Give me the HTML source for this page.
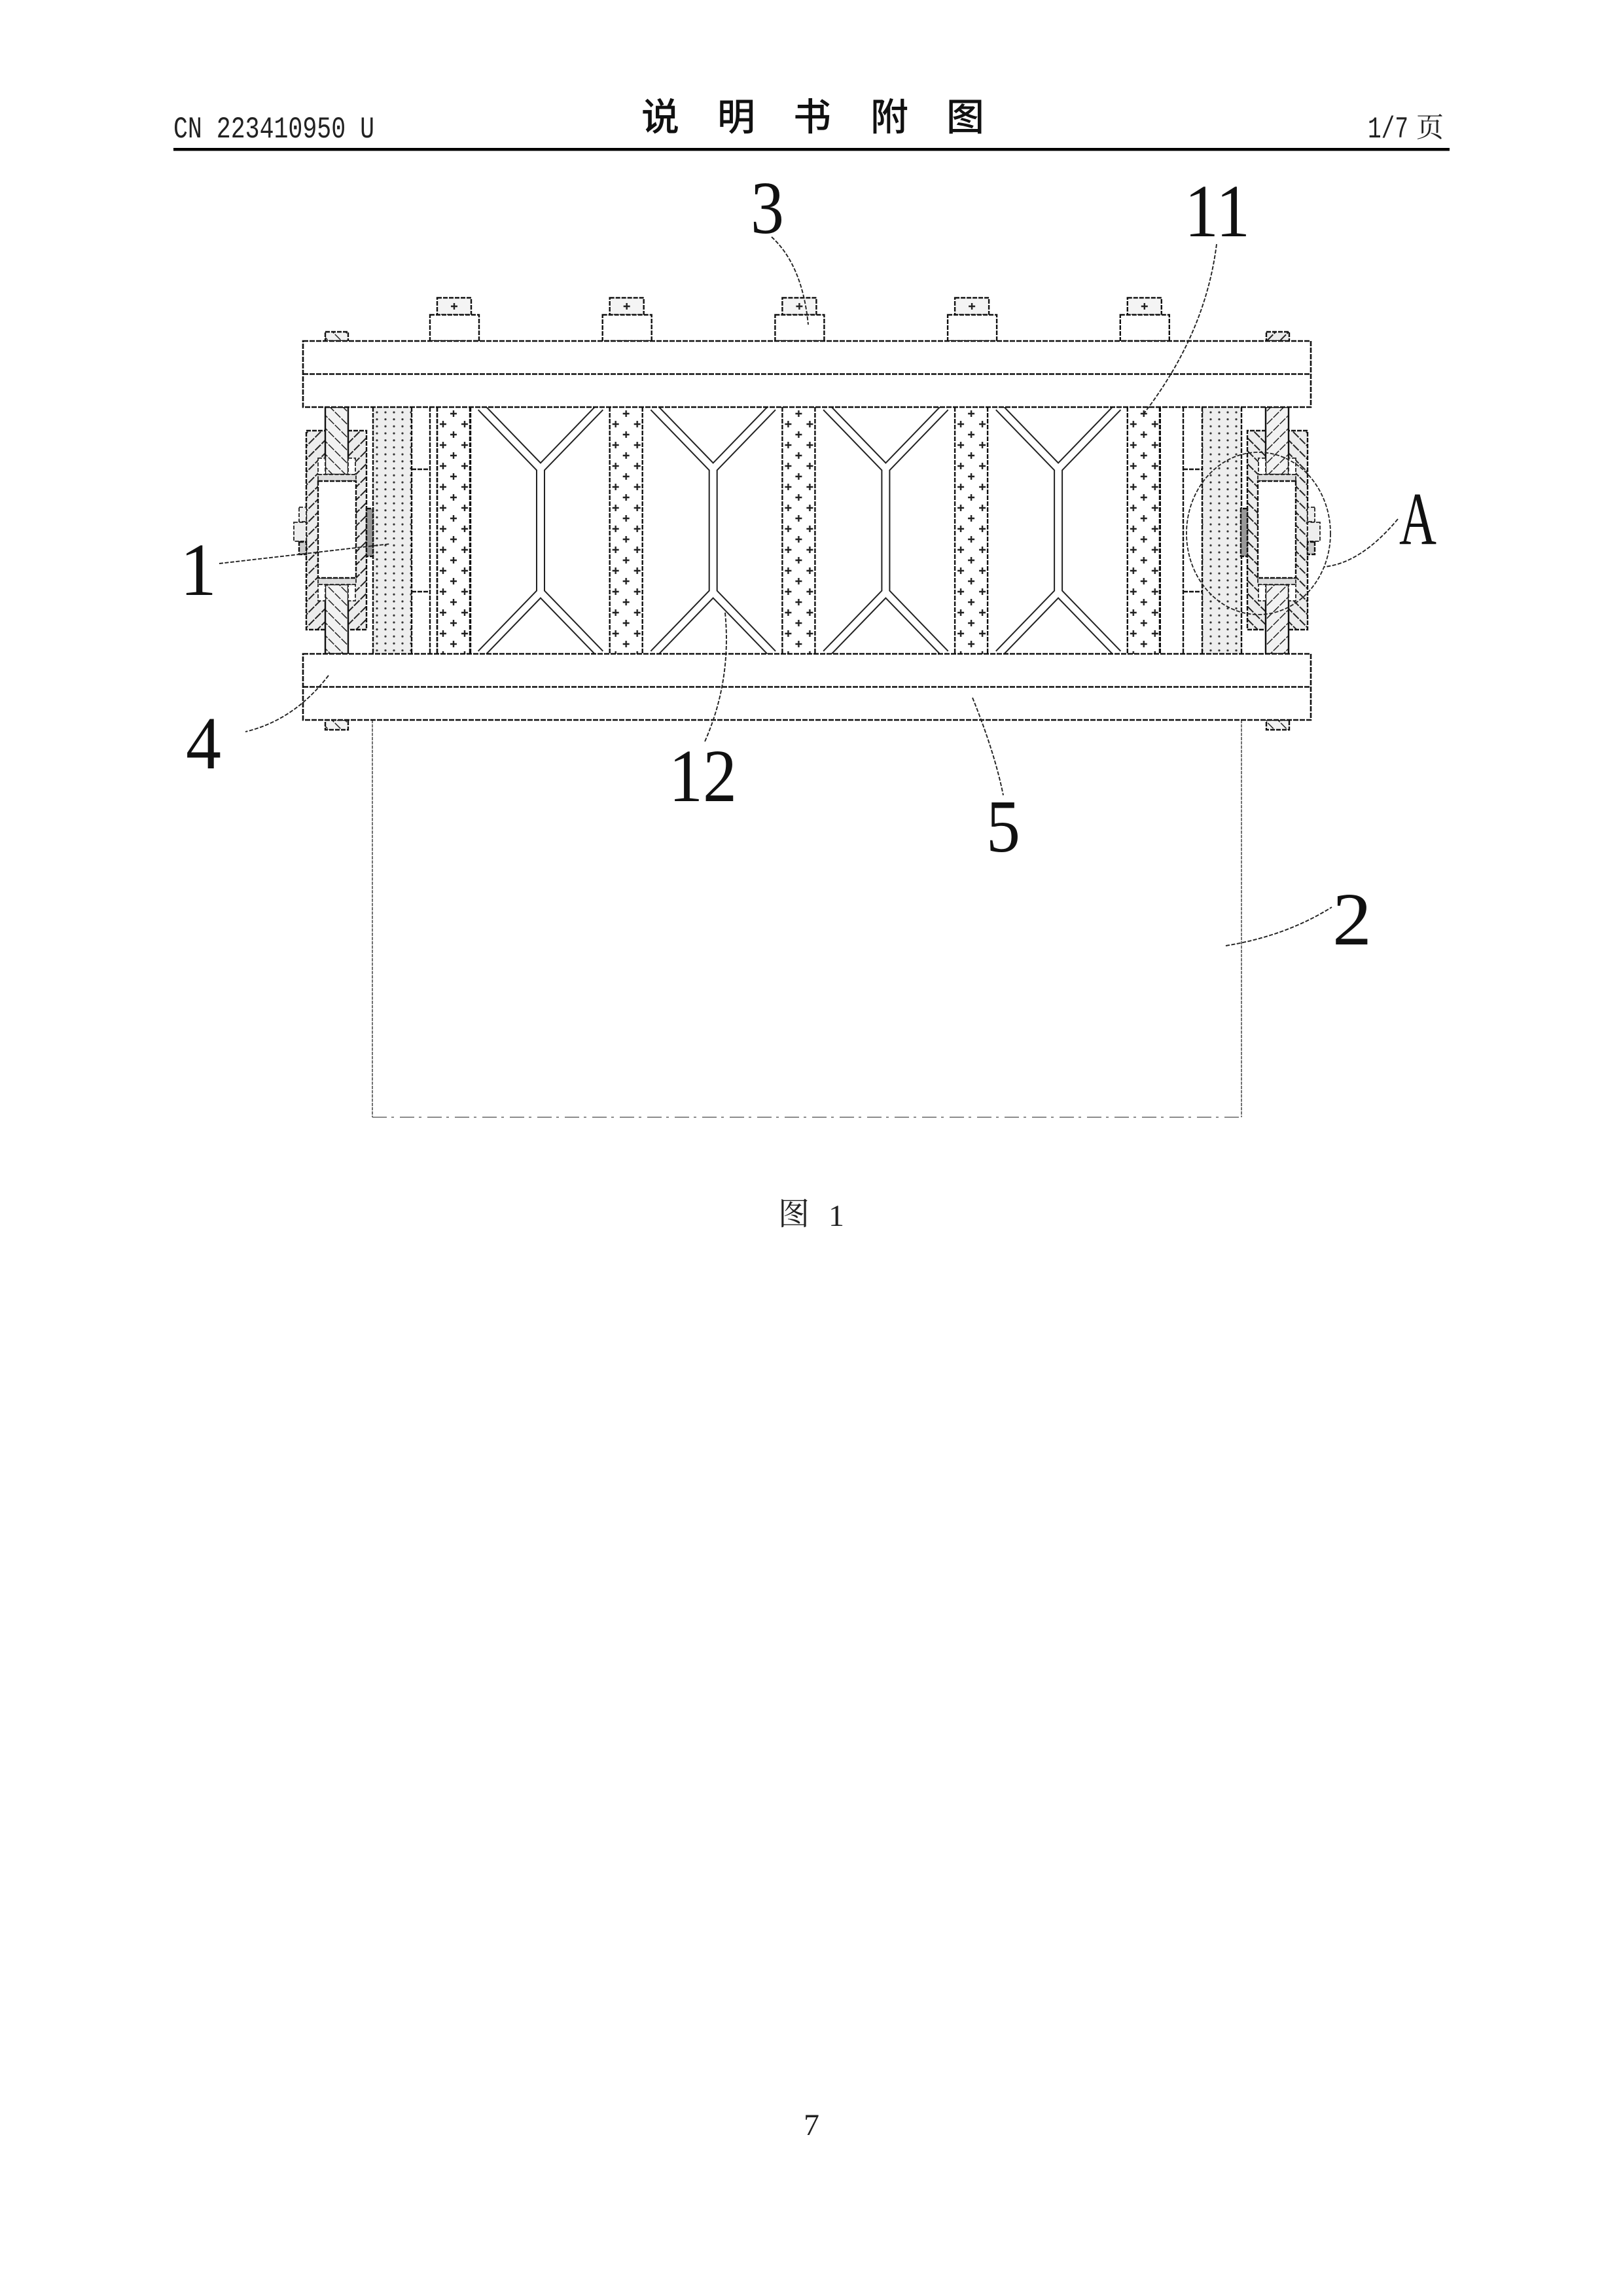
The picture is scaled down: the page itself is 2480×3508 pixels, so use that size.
<!DOCTYPE html>
<html><head><meta charset="utf-8"><style>
html,body{margin:0;padding:0;background:#fff;width:2480px;height:3508px;overflow:hidden}
svg{display:block}
.l{font-family:"Liberation Serif",serif;font-size:114px;fill:#111}
.h{font-family:"Liberation Serif",serif;font-size:47px;fill:#222}
.m{font-family:"Liberation Mono",monospace;font-size:46px;fill:#222}
.c{font-family:"Noto Sans CJK SC",sans-serif;font-size:58px;fill:#111;font-weight:500}
.s{font-family:"Noto Serif CJK SC",serif;fill:#222}
.k{stroke:#111;stroke-width:2.4;stroke-dasharray:7 2}
.t{stroke:#222;stroke-width:1.8;stroke-dasharray:6 2.5}
.n{fill:none}
</style></head><body>
<svg xmlns="http://www.w3.org/2000/svg" width="2480" height="3508" viewBox="0 0 2480 3508">
<defs>
<pattern id="plus" patternUnits="userSpaceOnUse" x="668" y="622" width="263.7" height="32">
<path d="M25 5v10M20 10h10M9 21v10M4 26h10M42 21v10M37 26h10" stroke="#222" stroke-width="2.4" fill="none"/>
</pattern>
<pattern id="dots" patternUnits="userSpaceOnUse" x="570" y="625" width="13" height="10.7">
<rect width="13" height="10.7" fill="#eee"/>
<circle cx="6" cy="5" r="1.6" fill="#333"/>
</pattern>
<pattern id="h1" patternUnits="userSpaceOnUse" width="14" height="14" patternTransform="rotate(45)">
<rect width="14" height="14" fill="#ececec"/><path d="M0 0V14" stroke="#222" stroke-width="4" stroke-dasharray="6 2"/>
</pattern>
<pattern id="h2" patternUnits="userSpaceOnUse" width="14" height="14" patternTransform="rotate(-45)">
<rect width="14" height="14" fill="#f2f2f2"/><path d="M0 0V14" stroke="#222" stroke-width="3" stroke-dasharray="7 2"/>
</pattern>
<g id="as">
<rect x="468" y="658" width="92" height="304" style="fill:url(#h1)" class="k"/>
<rect x="497" y="622" width="35" height="103" fill="url(#h2)" stroke="#111" stroke-width="2.4"/>
<rect x="497" y="893" width="35" height="106" fill="url(#h2)" stroke="#111" stroke-width="2.4"/>
<rect x="486" y="700" width="11" height="25" style="fill:#fff" class="t"/>
<rect x="532" y="700" width="11" height="25" style="fill:#fff" class="t"/>
<rect x="486" y="893" width="11" height="25" style="fill:#fff" class="t"/>
<rect x="532" y="893" width="11" height="25" style="fill:#fff" class="t"/>
<rect x="486" y="725" width="58" height="10" style="fill:#ddd" class="t"/>
<rect x="486" y="883" width="58" height="10" style="fill:#ddd" class="t"/>
<rect x="486" y="735" width="58" height="148" style="fill:#fff" class="k"/>
<rect x="457" y="775" width="11" height="22" style="fill:#eee" class="t"/>
<rect x="449" y="798" width="19" height="29" style="fill:#eee" class="t"/>
<rect x="457" y="828" width="11" height="19" style="fill:#ccc" class="k"/>
<rect x="560" y="777" width="10" height="73" style="fill:#999" class="k"/>
</g>
<g id="st">
<rect x="668" y="455" width="52" height="26" style="fill:#f4f4f4" class="k"/>
<rect x="657" y="481" width="75" height="40" style="fill:#fff" class="k"/>
<path d="M694 463v10M689 468h10" stroke="#222" stroke-width="2.4"/>
</g>
<g id="tr">
<path d="M735 622 L826 716 L826 905 L735 999 M917 622 L826 716 M826 905 L917 999" fill="none" stroke="#222" stroke-width="14"/>
<path d="M735 622 L826 716 L826 905 L735 999 M917 622 L826 716 M826 905 L917 999" fill="none" stroke="#fff" stroke-width="10"/>
</g>
</defs>
<rect width="2480" height="3508" fill="#fff"/>

<!-- header -->
<text class="m" x="265" y="210" textLength="307" lengthAdjust="spacingAndGlyphs">CN 223410950 U</text>
<text class="c" x="980 1096 1212 1330 1446" y="199">说明书附图</text>
<rect x="265" y="226" width="1950" height="4.5" fill="#000"/>
<text class="m" x="2090" y="210" textLength="62" lengthAdjust="spacingAndGlyphs">1/7</text>
<text class="s" x="2164" y="209" font-size="42">页</text>

<!-- lower box -->
<path d="M569 1100V1707" fill="none" stroke="#444" stroke-width="1.5" stroke-dasharray="5 1.5"/>
<path d="M1897 1100V1707" fill="none" stroke="#444" stroke-width="1.5" stroke-dasharray="5 1.5"/>
<path d="M569 1707H1897" fill="none" stroke="#666" stroke-width="1.5" stroke-dasharray="22 7 4 9"/>

<!-- studs -->
<use href="#st"/><use href="#st" x="263.7"/><use href="#st" x="527.4"/><use href="#st" x="791.1"/><use href="#st" x="1054.8"/>

<!-- small bolt heads -->
<rect x="497" y="507" width="35" height="14" style="fill:url(#h2)" class="k"/>
<rect x="1935" y="507" width="35" height="14" style="fill:url(#h1)" class="k"/>
<rect x="497" y="1100" width="35" height="15" style="fill:url(#h2)" class="k"/>
<rect x="1935" y="1100" width="35" height="15" style="fill:url(#h2)" class="k"/>

<!-- dense panels -->
<rect x="570" y="622" width="59" height="377" fill="url(#dots)"/>
<rect x="1837" y="622" width="60" height="377" fill="url(#dots)"/>
<path class="k n" d="M570 622V999M629 622V999M657 622V999M668 622V999M719 622V999M629 717H657M629 904H657"/>
<path class="k n" d="M1772 622V999M1808 622V999M1837 622V999M1897 622V999M1808 717H1837M1808 904H1837"/>

<!-- trusses -->
<use href="#tr"/><use href="#tr" x="263.7"/><use href="#tr" x="527.4"/><use href="#tr" x="791.1"/>

<!-- plus panels -->
<rect x="668" y="622" width="50" height="377" fill="url(#plus)"/>
<rect x="931.7" y="622" width="50" height="377" fill="url(#plus)"/>
<rect x="1195.4" y="622" width="50" height="377" fill="url(#plus)"/>
<rect x="1459.1" y="622" width="50" height="377" fill="url(#plus)"/>
<rect x="1722.8" y="622" width="50" height="377" fill="url(#plus)"/>
<path class="k n" d="M668 622V999M718 622V999M931.7 622V999M981.7 622V999M1195.4 622V999M1245.4 622V999M1459.1 622V999M1509.1 622V999M1722.8 622V999M1772.8 622V999"/>

<!-- assemblies -->
<use href="#as"/>
<use href="#as" transform="translate(2466,0) scale(-1,1)"/>

<!-- plates -->
<rect x="463" y="521" width="1540" height="101" fill="#fff" stroke="#111" stroke-width="2.6" stroke-dasharray="8 2"/>
<path d="M463 571.5H2003" stroke="#111" stroke-width="2.6" stroke-dasharray="8 2"/>
<rect x="463" y="999" width="1540" height="101" fill="#fff" stroke="#111" stroke-width="2.6" stroke-dasharray="8 2"/>
<path d="M463 1049.5H2003" stroke="#111" stroke-width="2.6" stroke-dasharray="8 2"/>

<!-- circle A -->
<ellipse cx="1923" cy="815" rx="110" ry="124" class="t n"/>

<!-- leaders -->
<g fill="none" stroke="#222" stroke-width="1.9" stroke-dasharray="6 2.5">
<path d="M1179 362Q1226 405 1235 496"/>
<path d="M1859 373Q1842 510 1747 633"/>
<path d="M2136 793Q2080 860 2024 866"/>
<path d="M335 861L596 831"/>
<path d="M502 1032Q450 1100 375 1118"/>
<path d="M1108 936Q1118 1040 1077 1133"/>
<path d="M1486 1066Q1520 1150 1533 1215"/>
<path d="M1873 1445Q1965 1430 2035 1386"/>
</g>

<!-- labels -->
<text class="l" x="1147" y="356" textLength="51" lengthAdjust="spacingAndGlyphs">3</text>
<text class="l" x="1810" y="361" textLength="100" lengthAdjust="spacingAndGlyphs">11</text>
<text class="l" x="2138" y="831" textLength="57" lengthAdjust="spacingAndGlyphs">A</text>
<text class="l" x="275" y="909" textLength="56" lengthAdjust="spacingAndGlyphs">1</text>
<text class="l" x="284" y="1174" textLength="54" lengthAdjust="spacingAndGlyphs">4</text>
<text class="l" x="1022" y="1224" textLength="104" lengthAdjust="spacingAndGlyphs">12</text>
<text class="l" x="1507" y="1301" textLength="52" lengthAdjust="spacingAndGlyphs">5</text>
<text class="l" x="2036" y="1443" textLength="60" lengthAdjust="spacingAndGlyphs">2</text>

<!-- caption -->
<text class="s" x="1189" y="1871" font-size="48">图</text>
<text class="h" x="1266" y="1873" textLength="24" lengthAdjust="spacingAndGlyphs">1</text>
<text class="h" x="1228" y="3262" textLength="24" lengthAdjust="spacingAndGlyphs">7</text>
</svg>
</body></html>
